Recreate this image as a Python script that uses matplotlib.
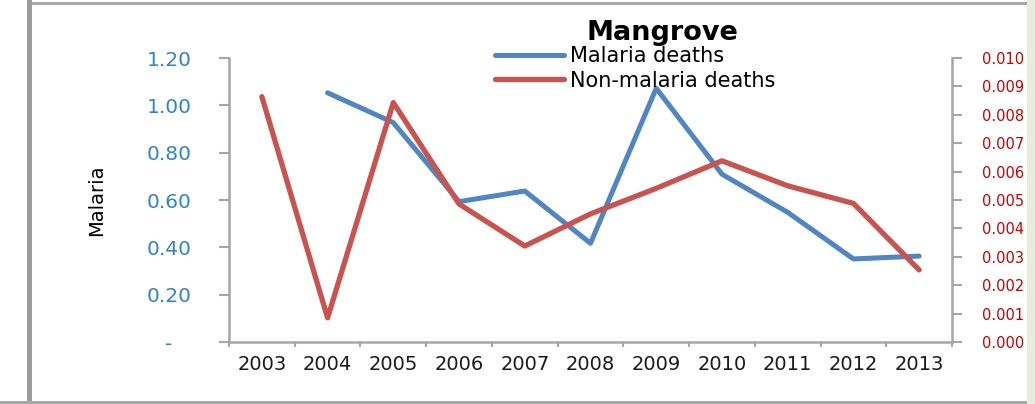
import numpy as np
import matplotlib.pyplot as plt
from matplotlib.patches import Rectangle

# data
years = ['2003', '2004', '2005', '2006', '2007', '2008', '2009', '2010', '2011', '2012', '2013']
malaria_deaths = [np.nan, 1.053, 0.927, 0.593, 0.638, 0.417, 1.072, 0.709, 0.548, 0.351, 0.363]
non_malaria_deaths = [0.00864, 0.00085, 0.00843, 0.00486, 0.00338, 0.00451,
                      0.00541, 0.00638, 0.00550, 0.00488, 0.00254]

left_ticks = [0.0, 0.2, 0.4, 0.6, 0.8, 1.0, 1.2]
left_labels = ['-   ', '0.20', '0.40', '0.60', '0.80', '1.00', '1.20']
right_ticks = [0.000, 0.001, 0.002, 0.003, 0.004, 0.005, 0.006, 0.007, 0.008, 0.009, 0.010]
right_labels = ['0.000', '0.001', '0.002', '0.003', '0.004', '0.005',
                '0.006', '0.007', '0.008', '0.009', '0.010']

blue = '#4F86C3'
red = '#C9534F'
axis_gray = '#A6A6A6'

W, H = 1035, 404
fig = plt.figure(figsize=(W / 100, H / 100), dpi=100)
fig.patch.set_facecolor('white')

ax = fig.add_axes([229 / W, 62 / H, 723 / W, 284 / H])
x = np.arange(len(years))
line1, = ax.plot(x, malaria_deaths, color=blue, linewidth=3.6, solid_joinstyle='round',
                 solid_capstyle='round', label='Malaria deaths')
ax.set_xlim(-0.5, len(years) - 0.5)
ax.set_ylim(0, 1.2)

ax2 = ax.twinx()
line2, = ax2.plot(x, non_malaria_deaths, color=red, linewidth=3.8, solid_joinstyle='round',
                  solid_capstyle='round', label='Non-malaria deaths')
ax2.set_ylim(0, 0.010)

# x axis: labels at category centres, tick marks on the boundaries
ax.set_xticks(x)
ax.set_xticklabels(years)
ax.set_xticks(np.arange(-0.5, len(years), 1), minor=True)
ax.tick_params(axis='x', which='major', length=0, pad=9, labelsize=14, labelcolor='#1a1a1a')
ax.tick_params(axis='x', which='minor', length=3.5, width=1.5, color=axis_gray)

ax.set_yticks(left_ticks)
ax.set_yticklabels(left_labels)
ax.tick_params(axis='y', length=7, width=1.5, color=axis_gray, labelcolor='#2E86C9',
               labelsize=14.5, pad=20)

# right labels squeezed into the space before the strip on the right edge
ax2.set_yticks(right_ticks)
ax2.set_yticklabels(right_labels)
ax2.tick_params(axis='y', length=7, width=1.5, color=axis_gray, labelcolor='#CC0000',
                labelsize=10.5, pad=14.5)

for a in (ax, ax2):
    for side in ('top', 'right', 'left', 'bottom'):
        a.spines[side].set_visible(False)
ax.spines['left'].set_visible(True)
ax.spines['bottom'].set_visible(True)
ax2.spines['right'].set_visible(True)
for sp in (ax.spines['left'], ax.spines['bottom'], ax2.spines['right']):
    sp.set_color(axis_gray)
    sp.set_linewidth(1.8)

# title, y label and legend
fig.text(662 / W, 1 - 33 / H, 'Mangrove', fontsize=19.5, fontweight='bold',
         ha='center', va='center')
fig.text(97 / W, 1 - 200 / H, 'Malaria', rotation=90, fontsize=14,
         family=['Liberation Sans Narrow', 'DejaVu Sans'], ha='center', va='center')
fig.legend(handles=[line1, line2], loc='upper left', bbox_to_anchor=(495 / W, 1 - 46 / H),
           frameon=False, fontsize=15, handlelength=3.3, handletextpad=0.3,
           labelspacing=0.22, borderpad=0, borderaxespad=0)

# screenshot frame: left bar, top and bottom rules, green strip on the right
fig.add_artist(Rectangle((27 / W, 0), 5 / W, 1, transform=fig.transFigure,
                         facecolor='#9C9C9C', edgecolor='none', zorder=5))
fig.add_artist(Rectangle((32 / W, 1 - 5 / H), 995 / W, 3 / H, transform=fig.transFigure,
                         facecolor='#A8A8A8', edgecolor='none', zorder=5))
fig.add_artist(Rectangle((0, 0), 1027 / W, 3 / H, transform=fig.transFigure,
                         facecolor='#A8A8A8', edgecolor='none', zorder=5))
fig.add_artist(Rectangle((1027 / W, 0), 8 / W, 1, transform=fig.transFigure,
                         facecolor='#E8ECD8', edgecolor='none', zorder=5))

fig.savefig('out.png', dpi=100)
